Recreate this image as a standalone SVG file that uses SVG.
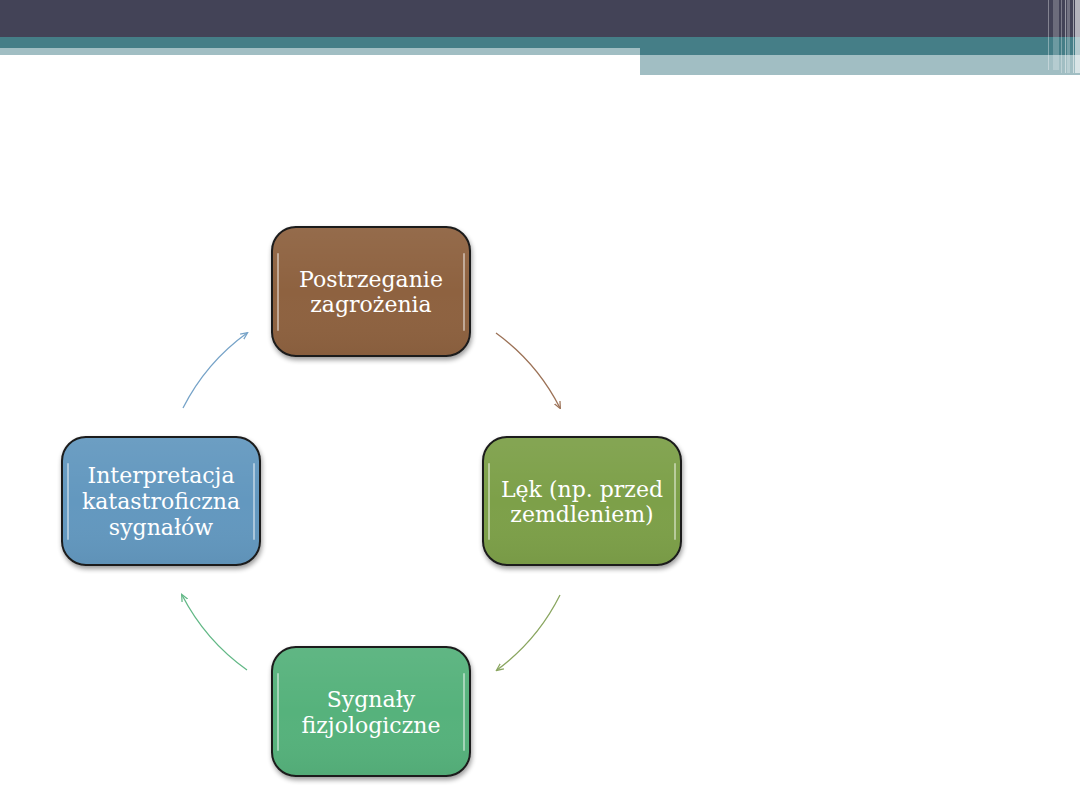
<svg xmlns="http://www.w3.org/2000/svg" width="1080" height="810" viewBox="0 0 1080 810">
<defs>
<style>
.lbl{font-family:"DejaVu Serif","Liberation Serif",serif;font-size:22px;fill:#ffffff;text-anchor:middle}
.box{stroke:#1a1a1a;stroke-width:2}
.hl{fill:none;stroke:#ffffff;stroke-width:2;stroke-opacity:0.45;stroke-linecap:round}
.arc{fill:none;stroke-width:1.3}
</style>
<linearGradient id="gloss" x1="0" y1="0" x2="0" y2="1">
<stop offset="0" stop-color="#ffffff" stop-opacity="0.06"/>
<stop offset="0.5" stop-color="#ffffff" stop-opacity="0"/>
<stop offset="1" stop-color="#000000" stop-opacity="0.04"/>
</linearGradient>
<filter id="sh" x="-10%" y="-10%" width="125%" height="130%">
<feGaussianBlur in="SourceAlpha" stdDeviation="2.5"/>
<feOffset dx="1" dy="3" result="b"/>
<feComponentTransfer><feFuncA type="linear" slope="0.4"/></feComponentTransfer>
<feMerge><feMergeNode/><feMergeNode in="SourceGraphic"/></feMerge>
</filter>
<marker id="ah-brown" viewBox="0 0 10 10" refX="8" refY="5" markerWidth="6" markerHeight="6" orient="auto"><path d="M0,1 L9,5 L0,9" fill="none" stroke="#9c7257" stroke-width="1.6"/></marker>
<marker id="ah-olive" viewBox="0 0 10 10" refX="8" refY="5" markerWidth="6" markerHeight="6" orient="auto"><path d="M0,1 L9,5 L0,9" fill="none" stroke="#8aa660" stroke-width="1.6"/></marker>
<marker id="ah-green" viewBox="0 0 10 10" refX="8" refY="5" markerWidth="6" markerHeight="6" orient="auto"><path d="M0,1 L9,5 L0,9" fill="none" stroke="#62b886" stroke-width="1.6"/></marker>
<marker id="ah-blue" viewBox="0 0 10 10" refX="8" refY="5" markerWidth="6" markerHeight="6" orient="auto"><path d="M0,1 L9,5 L0,9" fill="none" stroke="#76a3c8" stroke-width="1.6"/></marker>
</defs>
<rect width="1080" height="810" fill="#ffffff"/>
<g id="header">
<rect x="0" y="0" width="1080" height="37" fill="#434357"/>
<rect x="0" y="37" width="1080" height="18" fill="#457e87"/>
<rect x="0" y="48" width="640" height="7" fill="#a1bec3"/>
<rect x="640" y="55" width="440" height="20" fill="#a1bec3"/>
<g fill="#ffffff">
<rect x="1048" y="0" width="1" height="70" opacity="0.35"/>
<rect x="1053" y="0" width="6" height="70" opacity="0.22"/>
<rect x="1061" y="0" width="1" height="73" opacity="0.3"/>
<rect x="1065" y="0" width="1" height="73" opacity="0.45"/>
<rect x="1067" y="0" width="3" height="73" opacity="0.25"/>
<rect x="1073" y="0" width="1" height="73" opacity="0.5"/>
<rect x="1075" y="0" width="5" height="73" opacity="0.6"/>
</g>
</g>
<g id="connectors">
<path class="arc" d="M496,333 A210,210 0 0 1 560,408" stroke="#9c7257" marker-end="url(#ah-brown)"/>
<path class="arc" d="M560,595 A210,210 0 0 1 497,670" stroke="#8aa660" marker-end="url(#ah-olive)"/>
<path class="arc" d="M247,670 A210,210 0 0 1 182,595" stroke="#62b886" marker-end="url(#ah-green)"/>
<path class="arc" d="M183,408 A210,210 0 0 1 247,333" stroke="#76a3c8" marker-end="url(#ah-blue)"/>
</g>
<g id="node-top">
<rect class="box" x="272" y="227" width="198" height="129" rx="24" fill="#8e6241" filter="url(#sh)"/>
<rect x="273" y="228" width="196" height="127" rx="23" fill="url(#gloss)"/>
<path class="hl" d="M278,254 L278,330 M464,254 L464,330"/>
<text class="lbl" x="371" y="287">Postrzeganie</text>
<text class="lbl" x="371" y="312">zagrożenia</text>
</g>
<g id="node-right">
<rect class="box" x="483" y="437" width="198" height="128" rx="24" fill="#7da04a" filter="url(#sh)"/>
<rect x="484" y="438" width="196" height="126" rx="23" fill="url(#gloss)"/>
<path class="hl" d="M489,464 L489,539 M675,464 L675,539"/>
<text class="lbl" x="582" y="497">Lęk (np. przed</text>
<text class="lbl" x="582" y="522">zemdleniem)</text>
</g>
<g id="node-bottom">
<rect class="box" x="272" y="647" width="198" height="129" rx="24" fill="#56b27b" filter="url(#sh)"/>
<rect x="273" y="648" width="196" height="127" rx="23" fill="url(#gloss)"/>
<path class="hl" d="M278,674 L278,750 M464,674 L464,750"/>
<text class="lbl" x="371" y="707">Sygnały</text>
<text class="lbl" x="371" y="733">fizjologiczne</text>
</g>
<g id="node-left">
<rect class="box" x="62" y="437" width="198" height="128" rx="24" fill="#6398bf" filter="url(#sh)"/>
<rect x="63" y="438" width="196" height="126" rx="23" fill="url(#gloss)"/>
<path class="hl" d="M68,464 L68,539 M254,464 L254,539"/>
<text class="lbl" x="161" y="483">Interpretacja</text>
<text class="lbl" x="161" y="509">katastroficzna</text>
<text class="lbl" x="161" y="535">sygnałów</text>
</g>
</svg>
